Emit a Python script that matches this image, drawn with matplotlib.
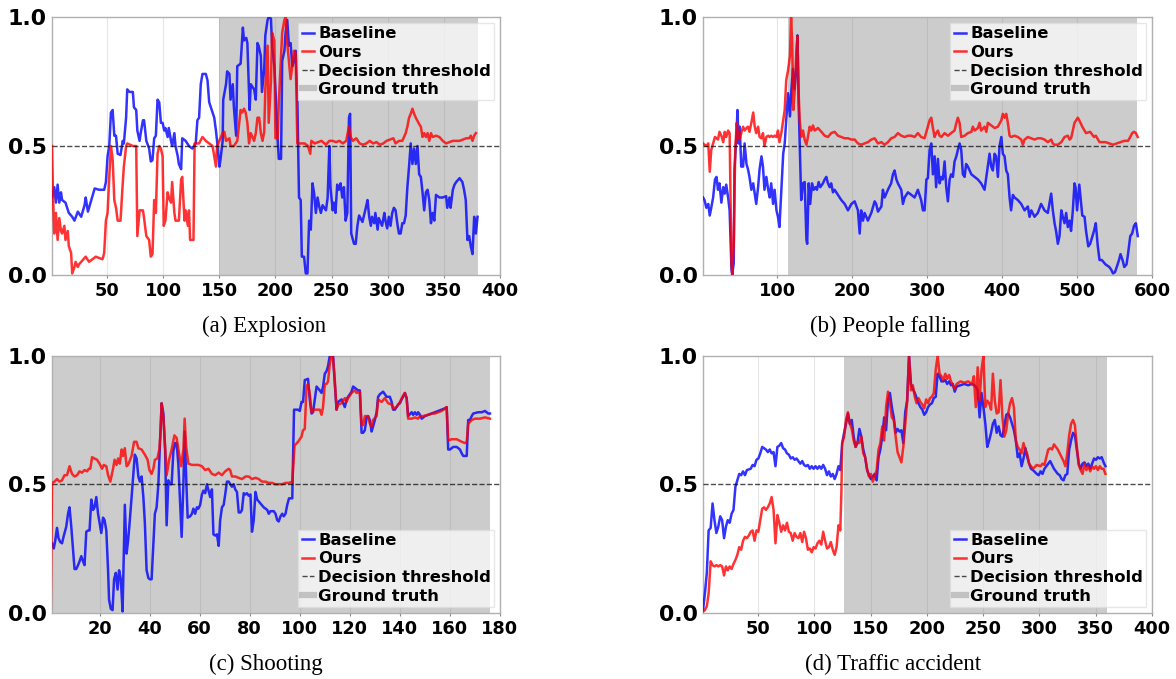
import matplotlib
matplotlib.use("Agg")
import matplotlib.pyplot as plt
from matplotlib.lines import Line2D

# ---------------- data ----------------
explosion_baseline = [(1,0.30),(3,0.34),(4.5,0.28),(6,0.35),(7.5,0.28),(9,0.32),(10,0.29),(13,0.28),(16,0.24),(19,0.225),(21,0.21),(24,0.245),(27,0.225),(30,0.27),(31,0.30),(33,0.245),(36,0.29),(39,0.335),(43,0.33),(47.5,0.33),(49,0.36),(50.5,0.46),(52,0.50),(53.5,0.63),(55,0.64),(56.5,0.54),(58,0.54),(59.5,0.47),(62,0.465),(64,0.52),(65,0.51),(67,0.61),(68,0.72),(70,0.71),(73,0.71),(74,0.65),(76,0.64),(77,0.56),(79,0.52),(80,0.55),(82,0.60),(83,0.60),(85,0.52),(87.5,0.49),(89,0.44),(90.5,0.445),(92,0.53),(93.5,0.54),(95,0.68),(96.5,0.67),(98,0.59),(99.5,0.59),(101,0.56),(102,0.57),(104,0.535),(105,0.57),(107,0.52),(108,0.50),(110,0.55),(111,0.50),(113,0.46),(114,0.43),(116,0.41),(117,0.53),(120,0.52),(123,0.50),(126,0.49),(129,0.51),(130.5,0.60),(132,0.61),(133.5,0.74),(135,0.78),(138,0.78),(139.5,0.755),(141,0.67),(144,0.63),(145.5,0.61),(147,0.56),(148,0.52),(150,0.42),(151,0.445),(153,0.52),(153.5,0.68),(156,0.74),(157,0.79),(159,0.78),(160,0.68),(162,0.74),(163,0.65),(165,0.54),(166,0.81),(169,0.82),(171,0.96),(172,0.91),(174,0.92),(175,0.90),(177,0.64),(178,0.74),(181,0.72),(182.5,0.68),(184,0.90),(185,0.89),(187,0.85),(188,0.71),(190,0.80),(191,0.93),(193,0.99),(194,1.0),(196,0.995),(197,0.89),(199,0.81),(200,0.72),(202,0.52),(203,0.45),(205,0.45),(206,0.83),(208,0.87),(209,0.94),(210.5,0.99),(212,0.89),(213.5,0.90),(215,0.81),(216.5,0.83),(218,0.87),(219.5,0.68),(221,0.30),(222.5,0.29),(223.5,0.07),(225.5,0.07),(227,0.005),(228.5,0.005),(230,0.21),(231.5,0.175),(233,0.355),(234.5,0.315),(236,0.24),(237.5,0.30),(239,0.265),(240.5,0.24),(242,0.27),(245,0.25),(246.5,0.30),(248,0.50),(249,0.34),(251,0.25),(252,0.28),(253.5,0.24),(255,0.35),(256.5,0.33),(258,0.355),(259.5,0.30),(261,0.34),(262.5,0.21),(264,0.24),(265.5,0.61),(266.5,0.625),(267.5,0.16),(270,0.12),(271.5,0.12),(273,0.19),(274.5,0.23),(277.5,0.205),(280.5,0.26),(282,0.29),(283.5,0.225),(285,0.19),(286,0.225),(288,0.20),(289,0.24),(291,0.175),(292,0.22),(295,0.19),(297,0.24),(298,0.21),(299.5,0.18),(301,0.225),(302.5,0.19),(304,0.24),(305.5,0.26),(307,0.25),(308.5,0.20),(310,0.16),(311.5,0.16),(313,0.20),(314.5,0.20),(316,0.23),(317.5,0.34),(319,0.42),(320.5,0.51),(322,0.43),(323.5,0.49),(325,0.43),(326.5,0.50),(328,0.39),(329.5,0.38),(331,0.32),(332.5,0.25),(334,0.32),(335.5,0.33),(337,0.29),(338.5,0.20),(340,0.24),(341.5,0.21),(343,0.31),(346,0.30),(349,0.30),(352,0.305),(353,0.26),(355,0.30),(356,0.26),(358,0.33),(359.5,0.35),(361,0.36),(364,0.375),(366.5,0.36),(368,0.33),(369.5,0.29),(371,0.135),(372.5,0.15),(374,0.11),(375.5,0.08),(377,0.225),(378.5,0.16),(380,0.225)]

explosion_ours = [(1,0.50),(2,0.29),(3,0.16),(4.5,0.24),(6,0.135),(7.5,0.22),(9,0.17),(10,0.16),(12,0.19),(13,0.135),(15,0.17),(16,0.11),(18,0.085),(19,0.005),(21,0.03),(22,0.05),(24,0.03),(25,0.04),(28,0.055),(31,0.07),(34,0.05),(40,0.07),(46,0.06),(47.5,0.085),(49,0.21),(50.5,0.24),(52,0.38),(53.5,0.50),(55,0.45),(56.5,0.29),(58,0.26),(59.5,0.21),(62,0.21),(64,0.355),(65,0.42),(67,0.50),(68,0.51),(73,0.50),(76,0.50),(77,0.15),(79,0.25),(82,0.25),(83,0.22),(85,0.15),(87.5,0.135),(89,0.07),(90.5,0.08),(92,0.29),(93.5,0.24),(95,0.47),(96.5,0.50),(98,0.49),(99.5,0.46),(100.5,0.19),(102,0.21),(104,0.32),(105,0.30),(107,0.28),(108,0.36),(110,0.24),(111,0.21),(114,0.21),(116,0.37),(117,0.38),(119,0.21),(120,0.25),(122,0.19),(123,0.25),(124,0.135),(127,0.135),(128,0.51),(132,0.51),(135,0.535),(138,0.52),(141,0.51),(144,0.50),(145.5,0.46),(147,0.42),(148,0.50),(150,0.52),(153,0.55),(154.5,0.555),(156,0.52),(159,0.53),(160,0.50),(163,0.50),(166,0.52),(169,0.64),(170.5,0.63),(172,0.645),(173.5,0.63),(175,0.59),(176.5,0.51),(178,0.55),(181,0.52),(182.5,0.55),(184,0.61),(185.5,0.61),(187,0.55),(188.5,0.52),(190,0.555),(191,0.72),(193,0.89),(194,0.59),(196,0.75),(197,0.94),(199,0.91),(200,0.53),(202,0.53),(203,0.67),(205,0.85),(206,0.94),(208,0.99),(209,1.0),(210.5,0.90),(212,0.83),(213.5,0.76),(215,0.81),(216.5,0.87),(218,0.86),(219.5,0.51),(223,0.51),(226,0.51),(229,0.50),(231,0.47),(232,0.52),(235,0.51),(238,0.515),(241,0.52),(245,0.505),(248,0.52),(251,0.52),(254,0.515),(257,0.52),(260,0.51),(263,0.52),(265.5,0.575),(267,0.535),(269,0.52),(272,0.53),(275,0.51),(278,0.505),(281,0.51),(284,0.52),(287,0.51),(290,0.515),(293,0.505),(296,0.51),(299,0.52),(302,0.525),(305,0.53),(307,0.51),(310,0.52),(313,0.52),(316,0.55),(317.5,0.575),(319,0.61),(320.5,0.625),(322,0.645),(323.5,0.625),(325,0.61),(328,0.585),(329.5,0.575),(331,0.535),(332.5,0.55),(334,0.535),(335.5,0.55),(337,0.52),(338.5,0.55),(340,0.535),(343,0.54),(346,0.535),(349,0.52),(352,0.51),(355,0.515),(358,0.52),(361,0.52),(364,0.52),(367,0.525),(370,0.53),(372.5,0.53),(374,0.54),(375.5,0.52),(377,0.54),(378.5,0.55)]

falling_baseline = [(1,0.30),(3,0.29),(5.5,0.26),(8,0.275),(10,0.23),(12,0.26),(14.5,0.30),(17,0.37),(19,0.38),(21,0.33),(23,0.355),(25.5,0.28),(28,0.34),(30,0.315),(32,0.35),(34.5,0.30),(36.5,0.25),(39,0.02),(40,0.0),(42,0.045),(43,0.41),(45.5,0.535),(47,0.64),(48.5,0.51),(50,0.575),(52,0.42),(54.5,0.42),(56.5,0.51),(59,0.43),(61,0.41),(63,0.38),(65.5,0.33),(68,0.355),(70,0.315),(72,0.275),(74.5,0.34),(76.5,0.41),(79,0.46),(81,0.42),(83,0.33),(85.5,0.38),(88,0.33),(90,0.30),(92,0.355),(94.5,0.275),(96.5,0.33),(99,0.25),(101,0.225),(103,0.185),(105.5,0.33),(108,0.47),(110,0.51),(112,0.60),(114.5,0.705),(117,0.615),(119,0.72),(121,0.80),(123,0.72),(125.5,0.80),(127,0.93),(128.6,0.665),(130,0.51),(132,0.29),(134.4,0.355),(136.6,0.36),(139,0.135),(140,0.12),(142,0.355),(144,0.275),(146.4,0.355),(148.6,0.33),(151,0.34),(153,0.33),(155.3,0.36),(157.5,0.34),(161,0.355),(163.3,0.37),(165.5,0.38),(167.7,0.355),(170,0.34),(172,0.355),(174.4,0.32),(176.6,0.33),(181,0.31),(185.5,0.29),(190,0.275),(194.4,0.25),(199,0.275),(203.3,0.285),(207.7,0.25),(210,0.16),(212,0.25),(214.4,0.21),(216.6,0.24),(221,0.21),(225.5,0.24),(230,0.285),(232,0.275),(234.4,0.245),(239,0.265),(241,0.33),(243.3,0.30),(247.7,0.33),(252,0.355),(254.4,0.39),(256.6,0.405),(259,0.37),(261,0.355),(265.5,0.33),(267.7,0.275),(270,0.30),(274.4,0.32),(279,0.31),(283.3,0.30),(287.7,0.33),(292,0.29),(294.4,0.25),(296.6,0.25),(299,0.37),(301,0.375),(303.3,0.485),(305.5,0.51),(307.7,0.39),(310,0.46),(312,0.34),(314.4,0.45),(316.6,0.355),(319,0.38),(321,0.37),(323.3,0.44),(325.5,0.34),(327.7,0.285),(330,0.37),(332,0.39),(334.4,0.38),(336.6,0.44),(339,0.46),(341,0.485),(343.3,0.51),(345.5,0.485),(347.7,0.39),(350,0.38),(352,0.43),(354.4,0.42),(359,0.39),(363.3,0.38),(367.7,0.37),(372,0.355),(376.6,0.33),(379,0.38),(381,0.42),(383.3,0.47),(385.5,0.42),(387.7,0.405),(390,0.47),(392,0.46),(394.4,0.38),(396.6,0.50),(399,0.535),(401,0.47),(403.3,0.46),(405.5,0.405),(407.7,0.39),(410,0.30),(412,0.25),(414.4,0.31),(416.6,0.30),(421,0.29),(425.5,0.275),(430,0.25),(434.4,0.265),(436.6,0.225),(439,0.25),(443.3,0.225),(447.7,0.24),(452,0.275),(456.6,0.25),(461,0.24),(465.5,0.315),(467.7,0.25),(470,0.20),(472,0.17),(474.4,0.12),(476.6,0.15),(479,0.25),(481,0.225),(483.3,0.20),(485.5,0.24),(487.7,0.185),(490,0.21),(492,0.17),(494.4,0.25),(496.6,0.355),(498,0.34),(500,0.25),(503,0.35),(507,0.23),(510,0.225),(512,0.17),(515,0.11),(517.5,0.12),(522.6,0.17),(525,0.20),(527.7,0.11),(530,0.057),(533,0.057),(538,0.04),(543,0.03),(545.5,0.02),(548,0.005),(550.6,0.01),(553,0.03),(556,0.057),(558,0.08),(560.7,0.057),(563,0.03),(566,0.04),(568,0.08),(571,0.15),(573.5,0.16),(576,0.19),(578.5,0.20),(581,0.15)]

falling_ours = [(1,0.51),(3,0.505),(5.5,0.50),(8,0.51),(10,0.40),(12,0.485),(14.5,0.51),(17,0.535),(19,0.53),(21,0.525),(23,0.555),(25.5,0.54),(28,0.515),(30,0.555),(32,0.535),(34.5,0.56),(36.5,0.55),(39,0.045),(40,0.0),(42,0.12),(44,0.485),(46,0.59),(48,0.535),(50,0.525),(52,0.55),(54.5,0.575),(56.5,0.56),(59,0.57),(61,0.575),(63,0.555),(65.5,0.59),(68,0.63),(70,0.575),(72,0.55),(74.5,0.575),(76.5,0.535),(79,0.53),(81,0.55),(83,0.50),(85.5,0.535),(88,0.54),(90,0.535),(92,0.54),(94.5,0.535),(96.5,0.54),(99,0.535),(101,0.56),(103,0.515),(105.5,0.55),(108,0.60),(110,0.64),(112,0.755),(114.5,0.795),(117,0.85),(118.5,1.0),(120,0.90),(121.5,0.64),(123.5,0.72),(125.5,0.87),(127,0.925),(128.6,0.705),(130,0.60),(132,0.535),(134.4,0.56),(136.6,0.525),(139,0.505),(141,0.535),(143.3,0.575),(145.5,0.56),(147.7,0.58),(150,0.56),(154.4,0.57),(159,0.555),(163.3,0.54),(167.7,0.535),(172,0.55),(176.6,0.555),(181,0.54),(185.5,0.535),(190,0.53),(194.4,0.53),(199,0.525),(203.3,0.525),(207.7,0.51),(212,0.505),(216.6,0.51),(221,0.515),(225.5,0.525),(230,0.53),(234.4,0.51),(239,0.515),(243.3,0.505),(247.7,0.515),(252,0.53),(256.6,0.535),(261,0.55),(265.5,0.54),(270,0.535),(274.4,0.54),(279,0.54),(283.3,0.535),(287.7,0.55),(292,0.535),(296.6,0.53),(301,0.575),(303.3,0.60),(305.5,0.61),(307.7,0.57),(310,0.535),(312,0.55),(314.4,0.56),(316.6,0.54),(319,0.535),(323.3,0.55),(327.7,0.54),(332,0.55),(336.6,0.56),(339,0.59),(341,0.61),(343.3,0.59),(345.5,0.535),(350,0.54),(354.4,0.55),(359,0.555),(361,0.575),(363.3,0.56),(367.7,0.57),(370,0.59),(372,0.56),(376.6,0.575),(379,0.555),(381,0.59),(385.5,0.58),(390,0.57),(394.4,0.575),(399,0.60),(401,0.625),(403.3,0.61),(405.5,0.625),(407.7,0.59),(410,0.54),(412,0.535),(416.6,0.54),(421,0.535),(425.5,0.525),(427.7,0.505),(430,0.525),(434.4,0.535),(439,0.53),(443.3,0.525),(447.7,0.53),(452,0.53),(456.6,0.525),(461,0.515),(465.5,0.525),(467.7,0.51),(470,0.505),(474.4,0.505),(479,0.515),(483.3,0.535),(487.7,0.54),(490,0.525),(492,0.53),(494.4,0.56),(496.6,0.59),(501,0.61),(503,0.60),(507,0.575),(512,0.55),(517.5,0.555),(522.6,0.535),(525,0.54),(530,0.515),(538,0.515),(543,0.51),(548,0.505),(553,0.51),(558,0.515),(563,0.52),(568,0.52),(571,0.535),(573.5,0.55),(576,0.555),(578.5,0.55),(581,0.535)]

shooting_baseline = [(1,0.27),(1.7,0.25),(2.3,0.28),(3,0.33),(3.6,0.29),(4.3,0.275),(5,0.27),(5.6,0.295),(6.7,0.335),(7.4,0.385),(8,0.41),(8.7,0.335),(9.4,0.245),(10,0.17),(10.7,0.17),(11.4,0.185),(12,0.20),(12.7,0.22),(13.4,0.20),(14,0.185),(14.7,0.315),(15.4,0.32),(16,0.32),(16.7,0.44),(17.4,0.40),(18,0.41),(18.7,0.45),(19.4,0.385),(20,0.35),(20.7,0.31),(21.4,0.37),(22,0.36),(22.7,0.32),(23.4,0.165),(23.8,0.05),(24.5,0.015),(25.2,0.01),(25.8,0.13),(26.5,0.155),(27.2,0.09),(27.8,0.165),(28.5,0.13),(29.2,0.005),(30.1,0.42),(30.8,0.23),(31.4,0.28),(32.1,0.36),(32.8,0.45),(33.4,0.53),(34.1,0.615),(34.8,0.60),(35.5,0.53),(36.1,0.51),(36.8,0.53),(37.5,0.45),(38.1,0.35),(38.8,0.165),(39.5,0.135),(40.1,0.13),(40.8,0.13),(42.1,0.385),(42.8,0.41),(43.5,0.50),(44.1,0.645),(44.8,0.815),(45.5,0.775),(46.2,0.63),(46.8,0.34),(47.5,0.515),(48.2,0.50),(48.8,0.50),(49.5,0.63),(50.2,0.66),(50.8,0.66),(51.5,0.575),(52.2,0.425),(52.8,0.295),(53.5,0.50),(54,0.705),(54.6,0.53),(55.2,0.37),(56.2,0.375),(56.9,0.385),(57.5,0.405),(58.2,0.385),(58.9,0.41),(59.5,0.405),(60.2,0.42),(60.9,0.46),(61.5,0.475),(62.2,0.465),(62.9,0.50),(63.5,0.477),(64.2,0.45),(64.9,0.48),(65.5,0.305),(66.2,0.30),(66.9,0.305),(67.6,0.26),(68.2,0.36),(68.9,0.41),(69.6,0.42),(70.2,0.46),(70.9,0.51),(71.6,0.51),(72.2,0.50),(72.9,0.49),(73.6,0.50),(74.2,0.48),(74.9,0.47),(75.6,0.39),(76.3,0.39),(76.9,0.40),(77.6,0.465),(78.3,0.46),(78.9,0.465),(79.6,0.455),(80.3,0.46),(80.9,0.315),(81.6,0.36),(82.3,0.47),(83,0.44),(84.3,0.425),(85.6,0.41),(87,0.40),(87.6,0.385),(88.3,0.395),(89.6,0.395),(90.3,0.385),(91,0.36),(91.6,0.355),(92.3,0.375),(93,0.385),(93.6,0.375),(94.3,0.385),(95,0.42),(95.7,0.445),(96.3,0.445),(97,0.445),(97.7,0.79),(99.3,0.79),(100,0.785),(100.7,0.82),(101.3,0.82),(102,0.905),(103.3,0.91),(104,0.83),(104.7,0.775),(105.3,0.78),(106.7,0.88),(108,0.865),(108.7,0.855),(109.3,0.88),(110,0.93),(110.7,0.94),(111.3,0.96),(112,1.0),(113.3,1.0),(114,0.89),(114.7,0.79),(115.3,0.82),(116.7,0.83),(118,0.80),(118.7,0.83),(119.3,0.84),(120.7,0.86),(121.3,0.88),(122,0.875),(123.3,0.865),(124,0.865),(124.7,0.70),(125.3,0.70),(126,0.71),(126.7,0.76),(127.3,0.765),(128,0.75),(128.7,0.705),(129.3,0.725),(130,0.75),(130.7,0.78),(131.3,0.84),(132,0.85),(133.3,0.86),(134,0.85),(134.7,0.84),(136,0.84),(136.7,0.82),(137.3,0.79),(138,0.79),(139.3,0.81),(140,0.815),(140.7,0.83),(141.3,0.84),(142,0.855),(142.7,0.835),(143.3,0.765),(144.7,0.78),(145.3,0.77),(146,0.78),(146.7,0.77),(147.3,0.78),(148,0.77),(148.7,0.755),(150,0.765),(151.3,0.77),(152.7,0.775),(154,0.78),(155.3,0.785),(156.7,0.79),(158,0.795),(158.7,0.80),(159.3,0.635),(160,0.635),(161.3,0.645),(162.7,0.645),(164,0.635),(164.7,0.62),(165.3,0.61),(166.7,0.61),(167.3,0.75),(168,0.75),(168.7,0.765),(169.3,0.775),(171.3,0.78),(172.7,0.78),(174,0.785),(175.3,0.775),(176,0.775)]

shooting_ours = [(0.5,0.0),(1,0.505),(2,0.51),(3,0.52),(4,0.51),(5,0.515),(6,0.535),(7,0.535),(8,0.57),(9,0.54),(10,0.53),(11,0.535),(12,0.55),(13,0.545),(14,0.555),(15,0.55),(15.7,0.56),(16.3,0.56),(17,0.605),(18,0.60),(19,0.595),(20,0.58),(21,0.56),(21.7,0.575),(22.7,0.57),(23.4,0.535),(24.3,0.51),(25.4,0.56),(26,0.595),(26.8,0.575),(27.4,0.60),(28.1,0.58),(28.8,0.635),(29.4,0.61),(30.1,0.64),(30.8,0.57),(31.4,0.575),(32.8,0.61),(33.8,0.665),(34.8,0.665),(35.5,0.64),(36.8,0.635),(38.1,0.615),(39.2,0.595),(39.9,0.555),(40.8,0.54),(41.5,0.56),(42.1,0.595),(43.1,0.60),(43.9,0.635),(44.4,0.71),(44.8,0.815),(45.5,0.76),(46.2,0.645),(46.8,0.535),(47.8,0.595),(48.8,0.635),(49.9,0.69),(50.8,0.68),(51.5,0.635),(52.6,0.57),(53.5,0.635),(54,0.755),(54.6,0.645),(55.5,0.58),(56.9,0.575),(58.2,0.575),(59.5,0.575),(60.9,0.57),(62.2,0.555),(63.5,0.56),(64.9,0.54),(66.2,0.535),(67.6,0.545),(68.9,0.535),(70.2,0.55),(71.6,0.56),(72.2,0.555),(72.9,0.53),(74.2,0.53),(75.6,0.525),(76.9,0.52),(78.3,0.53),(79.6,0.53),(80.9,0.52),(82.3,0.525),(83.6,0.52),(84.9,0.51),(86.3,0.51),(87.6,0.505),(89,0.505),(90.3,0.50),(91.6,0.50),(93,0.50),(94.3,0.505),(95.7,0.505),(97,0.51),(97.9,0.65),(99.3,0.665),(100.7,0.685),(101.3,0.71),(102,0.715),(102.7,0.88),(103.3,0.89),(104,0.85),(104.7,0.78),(105.3,0.79),(106.7,0.79),(108,0.79),(108.7,0.77),(109.3,0.80),(110,0.89),(110.7,0.89),(111.3,0.90),(112,0.97),(112.7,1.0),(113.3,0.99),(114,0.905),(114.7,0.79),(115.3,0.81),(116.7,0.815),(118,0.835),(118.7,0.82),(119.3,0.835),(120.7,0.855),(121.3,0.86),(122,0.865),(122.7,0.855),(124,0.86),(124.7,0.73),(125.3,0.73),(126,0.765),(127.3,0.765),(128,0.735),(128.7,0.725),(129.3,0.75),(130.7,0.765),(131.3,0.83),(132.7,0.82),(134,0.835),(135.3,0.815),(136.7,0.81),(137.3,0.795),(138.7,0.80),(140,0.82),(141.3,0.845),(142,0.855),(142.7,0.835),(143.3,0.755),(144.7,0.755),(146,0.76),(147.3,0.755),(148,0.765),(149.3,0.765),(151.3,0.77),(152.7,0.775),(154,0.775),(155.3,0.78),(156.7,0.785),(158.7,0.80),(159.3,0.67),(160.7,0.675),(162.7,0.675),(164.7,0.665),(166,0.66),(166.7,0.665),(167.3,0.735),(168.7,0.75),(170,0.755),(172,0.755),(174,0.76),(176,0.755)]

traffic_baseline = [(1,0.01),(2.7,0.075),(4.4,0.155),(6,0.32),(7.8,0.33),(9.5,0.425),(11.2,0.36),(12.9,0.31),(14.6,0.335),(16.3,0.375),(18,0.36),(19.7,0.29),(21.4,0.335),(23,0.36),(24.7,0.35),(26.4,0.385),(28.1,0.40),(29.8,0.49),(31.5,0.515),(33.2,0.54),(34.9,0.535),(36.6,0.55),(38.3,0.535),(40,0.555),(43.4,0.56),(45.1,0.575),(46.8,0.57),(48.5,0.595),(50.2,0.60),(51.9,0.62),(53.6,0.645),(55.3,0.64),(56.9,0.635),(58.6,0.625),(60.3,0.635),(62,0.62),(63.7,0.625),(65.4,0.57),(67.1,0.645),(68.8,0.65),(70.5,0.66),(72.2,0.64),(73.9,0.635),(75.6,0.62),(77.3,0.615),(79,0.60),(80.7,0.605),(82.4,0.595),(84.1,0.60),(85.8,0.59),(87.5,0.58),(89.2,0.59),(90.8,0.575),(92.5,0.57),(94.2,0.575),(95.9,0.56),(97.6,0.57),(99.3,0.56),(101,0.57),(102.7,0.56),(104.4,0.57),(106.1,0.56),(107.8,0.575),(109.5,0.56),(111.2,0.535),(112.9,0.55),(114.6,0.53),(116.3,0.54),(118,0.52),(119.7,0.54),(121.4,0.57),(123,0.555),(124.7,0.66),(126.4,0.70),(128.1,0.735),(129.8,0.775),(131.5,0.735),(133.2,0.75),(134.9,0.685),(136.6,0.645),(138.3,0.66),(140,0.715),(141.7,0.685),(143.4,0.635),(145.1,0.605),(146.8,0.555),(148.5,0.535),(150.2,0.52),(151.9,0.53),(153.6,0.54),(155.3,0.515),(157,0.605),(158.6,0.635),(160.3,0.685),(162,0.76),(163.7,0.71),(165.4,0.825),(167.1,0.855),(168.8,0.80),(170.5,0.76),(172.2,0.70),(173.9,0.715),(175.6,0.705),(177.3,0.71),(179,0.66),(180.7,0.78),(182.4,0.825),(184.1,1.0),(185.8,0.89),(187.5,0.87),(189.2,0.855),(190.8,0.835),(192.5,0.815),(194.2,0.80),(195.9,0.79),(197.6,0.77),(199.3,0.78),(201,0.80),(202.7,0.81),(204.4,0.815),(206.1,0.835),(207.8,0.84),(209.5,0.93),(211.2,0.92),(212.9,0.90),(214.6,0.90),(216.3,0.905),(218,0.89),(219.7,0.90),(221.4,0.885),(223,0.89),(224.7,0.86),(226.4,0.88),(229.8,0.885),(233.2,0.89),(236.6,0.885),(240,0.89),(243.4,0.88),(245.1,0.865),(246.8,0.76),(248.5,0.855),(250.2,0.80),(251.9,0.735),(253.6,0.645),(255.3,0.67),(257,0.70),(258.6,0.735),(260.3,0.75),(262,0.70),(263.7,0.725),(265.4,0.69),(267.1,0.685),(268.8,0.725),(270.5,0.77),(272.2,0.775),(273.9,0.76),(275.6,0.735),(277.3,0.71),(279,0.67),(280.7,0.605),(282.4,0.62),(284.1,0.57),(285.8,0.60),(287.5,0.64),(289.2,0.605),(290.8,0.58),(292.5,0.56),(294.2,0.555),(297.6,0.54),(299.3,0.535),(301,0.55),(302.7,0.54),(304.4,0.56),(306.1,0.57),(307.8,0.58),(309.5,0.59),(311.2,0.575),(312.9,0.56),(314.6,0.55),(316.3,0.54),(318,0.535),(319.7,0.52),(321.4,0.515),(323,0.535),(324.7,0.54),(326.4,0.635),(328.1,0.67),(329.8,0.70),(331.5,0.69),(333.2,0.635),(334.9,0.58),(336.6,0.56),(338.3,0.58),(340,0.585),(341.7,0.57),(343.4,0.58),(345.1,0.56),(346.8,0.58),(348.5,0.60),(350.2,0.595),(351.9,0.605),(353.6,0.60),(355.3,0.605),(357,0.585),(358.6,0.57)]

traffic_ours = [(1,0.005),(2.7,0.01),(4.4,0.025),(6,0.075),(7.8,0.20),(9.5,0.185),(11.2,0.18),(12.9,0.185),(14.6,0.18),(16.3,0.185),(18,0.18),(19.7,0.145),(21.4,0.18),(23,0.165),(24.7,0.18),(26.4,0.17),(28.1,0.19),(29.8,0.205),(31.5,0.225),(33.2,0.255),(34.9,0.245),(36.6,0.28),(38.3,0.295),(40,0.29),(41.7,0.30),(43.4,0.315),(45.1,0.32),(46.8,0.28),(48.5,0.32),(50.2,0.315),(51.9,0.36),(53.6,0.405),(55.3,0.41),(56.9,0.40),(58.6,0.41),(60.3,0.425),(62,0.45),(63.7,0.40),(65.4,0.27),(67.1,0.38),(68.8,0.35),(70.5,0.315),(72.2,0.34),(73.9,0.32),(75.6,0.35),(77.3,0.315),(79,0.31),(80.7,0.28),(82.4,0.31),(84.1,0.295),(85.8,0.29),(87.5,0.31),(89.2,0.275),(90.8,0.315),(92.5,0.29),(94.2,0.245),(95.9,0.25),(97.6,0.235),(99.3,0.255),(101,0.25),(102.7,0.27),(104.4,0.28),(106.1,0.265),(107.8,0.315),(109.5,0.28),(111.2,0.25),(112.9,0.255),(114.6,0.275),(116.3,0.245),(118,0.225),(119.7,0.255),(121.4,0.34),(123,0.32),(124,0.475),(124.7,0.66),(126.4,0.685),(128.1,0.75),(129.8,0.78),(131.5,0.735),(133.2,0.715),(134.9,0.67),(136.6,0.645),(138.3,0.665),(140,0.66),(141.7,0.685),(143.4,0.62),(145.1,0.605),(146.8,0.56),(148.5,0.53),(150.2,0.54),(151.9,0.51),(153.6,0.53),(155.3,0.555),(157,0.635),(158.6,0.66),(160.3,0.725),(162,0.67),(163.7,0.80),(165.4,0.86),(167.1,0.815),(168.8,0.76),(170.5,0.75),(172.2,0.685),(173.9,0.625),(175.6,0.605),(177.3,0.585),(179,0.645),(180.7,0.735),(182.4,0.82),(184.1,1.0),(185.8,0.865),(187.5,0.885),(189.2,0.84),(190.8,0.815),(192.5,0.835),(194.2,0.82),(195.9,0.81),(197.6,0.795),(199.3,0.83),(201,0.815),(202.7,0.835),(204.4,0.84),(206.1,0.855),(207.8,0.945),(209.5,1.0),(211.2,0.93),(212.9,0.92),(214.6,0.905),(216.3,0.93),(218,0.91),(219.7,0.925),(221.4,0.90),(223,0.885),(224.7,0.87),(226.4,0.89),(229.8,0.90),(233.2,0.895),(236.6,0.90),(240,0.89),(241.7,0.92),(243.4,0.80),(245.1,0.955),(246.8,0.825),(248.5,0.945),(250.2,1.0),(251.9,0.80),(253.6,0.825),(255.3,0.815),(257,0.79),(258.6,0.93),(260.3,0.825),(262,0.775),(263.7,0.78),(265.4,0.905),(267.1,0.76),(268.8,0.685),(270.5,0.71),(272.2,0.775),(273.9,0.815),(275.6,0.835),(277.3,0.80),(279,0.67),(280.7,0.645),(282.4,0.635),(284.1,0.62),(285.8,0.66),(287.5,0.635),(289.2,0.615),(290.8,0.58),(292.5,0.57),(294.2,0.56),(297.6,0.575),(301,0.57),(302.7,0.58),(304.4,0.575),(306.1,0.605),(307.8,0.635),(309.5,0.64),(311.2,0.635),(312.9,0.655),(314.6,0.645),(316.3,0.635),(318,0.62),(319.7,0.605),(321.4,0.59),(323,0.57),(324.7,0.62),(326.4,0.69),(328.1,0.735),(329.8,0.75),(331.5,0.73),(333.2,0.645),(334.9,0.575),(336.6,0.555),(338.3,0.54),(340,0.58),(341.7,0.555),(343.4,0.57),(345.1,0.55),(346.8,0.57),(348.5,0.56),(350.2,0.57),(351.9,0.555),(353.6,0.57),(355.3,0.56),(357,0.56),(358.6,0.54)]

panel_titles = ["(a) Explosion", "(b) People falling", "(c) Shooting", "(d) Traffic accident"]
ground_truth = [(150, 380), (114, 580), (1, 176), (126, 360)]
x_limits = [(1, 400), (1, 600), (1, 180), (1, 400)]
x_ticks = [[50,100,150,200,250,300,350,400], [100,200,300,400,500,600],
           [20,40,60,80,100,120,140,160,180], [50,100,150,200,250,300,350,400]]
y_ticks = [0.0, 0.5, 1.0]
threshold = 0.5
legend_loc = ["upper right", "upper right", "lower right", "lower right"]
series = [(explosion_baseline, explosion_ours), (falling_baseline, falling_ours),
          (shooting_baseline, shooting_ours), (traffic_baseline, traffic_ours)]

# ---------------- figure ----------------
W, H = 1176, 679
fig = plt.figure(figsize=(W/100, H/100), dpi=100)

def px_axes(l, t, r, b):
    return [l/W, 1 - b/H, (r-l)/W, (b-t)/H]

boxes = [px_axes(52, 17.3, 500, 274.7), px_axes(703, 17.3, 1152, 274.7),
         px_axes(52, 355.7, 500, 612.7), px_axes(703, 355.7, 1152, 612.7)]
cap_pos = [(264, 326), (890, 326), (266, 664), (893, 664)]

LW = 1.8
for i in range(4):
    ax = fig.add_axes(boxes[i])
    base, ours = series[i]
    bx, by = zip(*base)
    ox, oy = zip(*ours)
    ax.axvspan(*ground_truth[i], color="gray", alpha=0.4, lw=0, zorder=1)
    ax.plot(bx, by, color="blue", alpha=0.8, lw=LW, zorder=3)
    ax.plot(ox, oy, color="red", alpha=0.8, lw=LW, zorder=4)
    ax.axhline(threshold, color="black", ls="--", lw=1.0, alpha=0.7, zorder=5)
    ax.set_xlim(*x_limits[i])
    ax.set_ylim(0, 1)
    ax.set_xticks(x_ticks[i])
    ax.set_yticks(y_ticks)
    ax.set_yticklabels([f"{v:.1f}" for v in y_ticks])
    ax.grid(axis="x", color="#e6e6e6", lw=0.8, zorder=0)
    ax.set_axisbelow(True)
    for s in ax.spines.values():
        s.set_color("#b0b0b0")
        s.set_linewidth(1.0)
    ax.tick_params(axis="x", labelsize=12.8, length=2.5, width=0.8, color="#888888", pad=2.5)
    ax.tick_params(axis="y", labelsize=15.8, length=0, pad=4)
    for lab in ax.get_xticklabels() + ax.get_yticklabels():
        lab.set_fontweight("bold")
    handles = [Line2D([], [], color="blue", alpha=0.8, lw=LW),
               Line2D([], [], color="red", alpha=0.8, lw=LW),
               Line2D([], [], color="black", alpha=0.7, ls="--", lw=1.0),
               Line2D([], [], color="gray", alpha=0.4, lw=4.5)]
    leg = ax.legend(handles, ["Baseline", "Ours", "Decision threshold", "Ground truth"],
                    loc=legend_loc[i], prop={"weight": "bold", "size": 11.8},
                    handlelength=0.75, handletextpad=0.25, labelspacing=0.22,
                    borderpad=0.2, borderaxespad=0.35, framealpha=0.7,
                    facecolor="white", edgecolor="#dddddd", fancybox=False)
    leg.set_zorder(10)
    cx, cy = cap_pos[i]
    fig.text(cx/W, 1 - cy/H, panel_titles[i], ha="center", va="center",
             fontfamily="Liberation Serif", fontsize=16.5)

fig.savefig("out.png", dpi=100)
